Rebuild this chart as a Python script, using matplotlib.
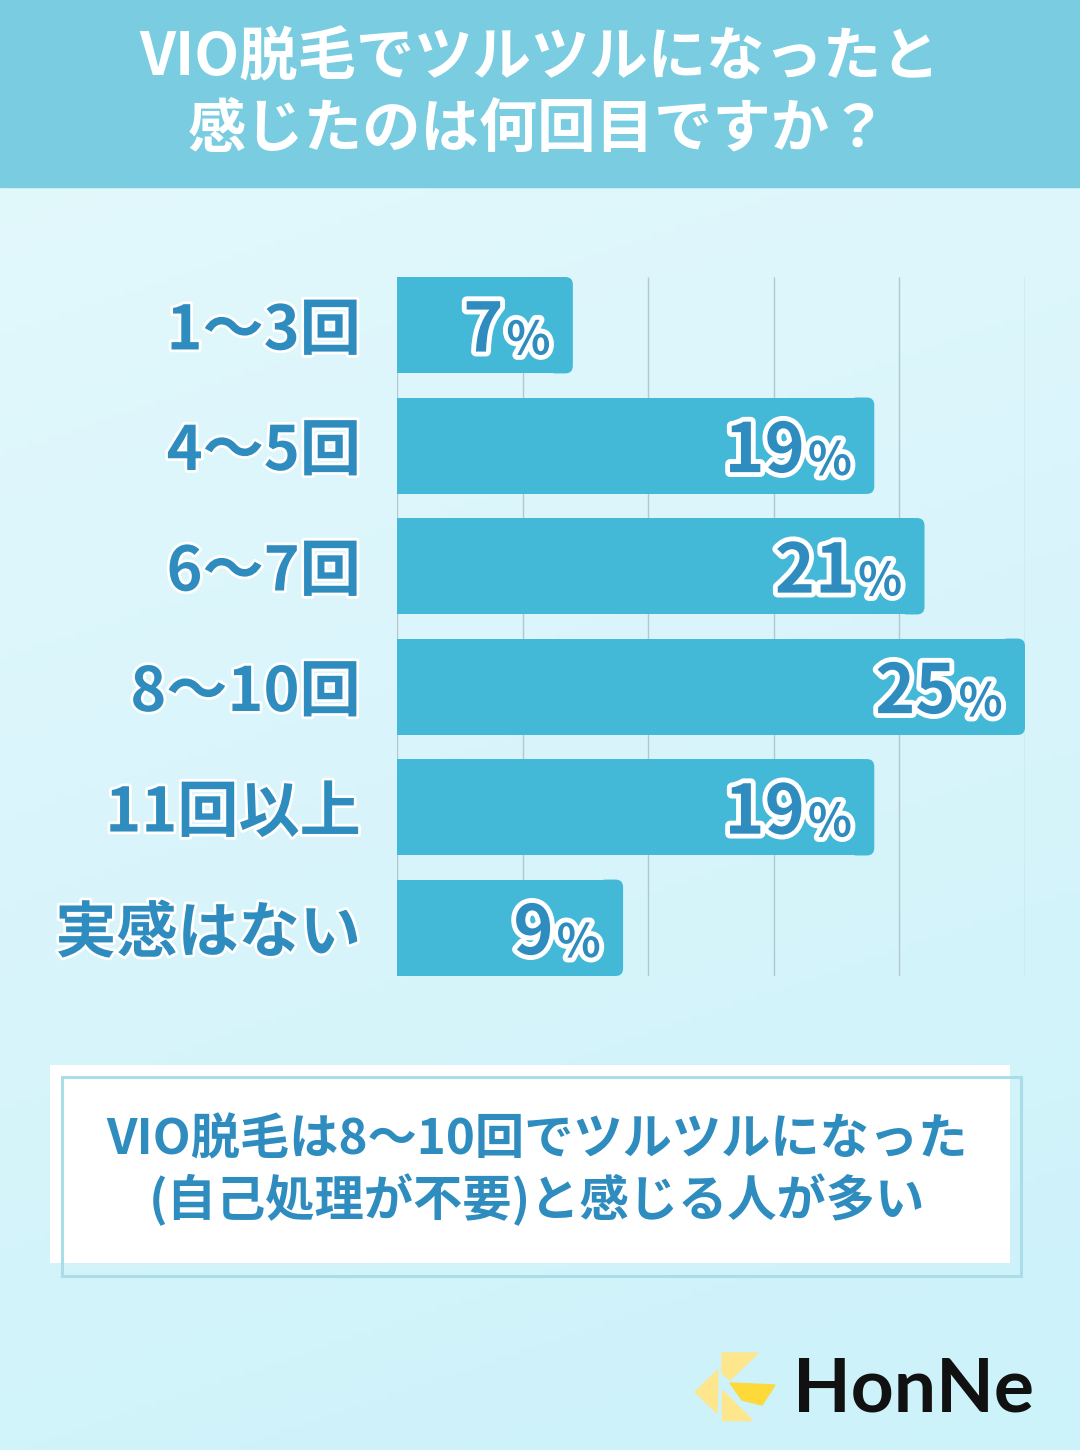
import numpy as np
import matplotlib.pyplot as plt
import matplotlib.patheffects as pe
from matplotlib.patches import Rectangle, Polygon, FancyBboxPatch
from matplotlib.colors import LinearSegmentedColormap

plt.rcParams['font.family'] = ['Noto Sans CJK JP', 'DejaVu Sans']

# データ
categories = ['1〜3回', '4〜5回', '6〜7回', '8〜10回', '11回以上', '実感はない']
values = [7, 19, 21, 25, 19, 9]
xticks = [0, 5, 10, 15, 20, 25]

title1 = 'VIO脱毛でツルツルになったと'
title2 = '感じたのは何回目ですか？'
note1 = 'VIO脱毛は8〜10回でツルツルになった'
note2 = '(自己処理が不要)と感じる人が多い'

W, H = 1080, 1450
BAR = '#43b9d7'
DARK = '#2f8cbf'


def px(x, y):
    return (x / W, 1 - y / H)


fig = plt.figure(figsize=(W / 100, H / 100), dpi=100)

# 背景グラデーション
bg = fig.add_axes([0, 0, 1, 1], zorder=-10)
yy, xx = np.mgrid[0:1:200j, 0:1:200j]
cmap = LinearSegmentedColormap.from_list('bg', ['#e4f9fc', '#d9f5fb', '#ccf2fa'])
bg.imshow(yy * 0.8 + xx * 0.2, cmap=cmap, aspect='auto', extent=[0, 1, 0, 1], origin='upper')
bg.set_axis_off()

# タイトル帯
fig.patches.append(Rectangle(px(0, 187), 1, 187 / H, transform=fig.transFigure,
                             color='#7acde1', zorder=0))
fig.text(*px(540, 58), title1, ha='center', va='center', fontsize=42,
         weight='bold', color='white')
fig.text(*px(538, 130), title2, ha='center', va='center', fontsize=42,
         weight='bold', color='white')

# 棒グラフ
ax = fig.add_axes([397 / W, 1 - 976 / H, 628 / W, 699 / H])
ax.set_facecolor('none')
y = np.arange(len(categories))
ax.vlines(xticks, -0.4, len(categories) - 0.6, color='#b3c7cf', lw=1, zorder=0)
bars = ax.barh(y, values, height=0.8, color=BAR, zorder=2)
# 右端だけ角丸にする
asp = (len(categories) - 0.2) / 699 / (25 / 628)
for b in bars:
    w = b.get_width()
    b.set_width(w - 0.5)
    ax.add_patch(FancyBboxPatch((w - 1, b.get_y()), 1, b.get_height(),
                                boxstyle='round,pad=0,rounding_size=0.3',
                                mutation_aspect=asp, color=BAR, lw=0, zorder=2))
ax.set_xlim(0, 25)
ax.set_ylim(len(categories) - 0.6, -0.4)
ax.set_xticks([])
ax.set_yticks(y)
ax.set_yticklabels(categories, fontsize=44, weight='bold', color=DARK)
ax.tick_params(axis='y', length=0, pad=26)
for t in ax.get_yticklabels():
    t.set_path_effects([pe.withStroke(linewidth=4, foreground='white')])
for s in ax.spines.values():
    s.set_visible(False)

stroke = [pe.withStroke(linewidth=7, foreground='white')]
for i, v in enumerate(values):
    ax.annotate('%', xy=(v, i), xytext=(-16, -21), textcoords='offset points',
                ha='right', va='baseline', fontsize=33, weight='bold',
                color=DARK, path_effects=stroke, zorder=4)
    ax.annotate(str(v), xy=(v, i), xytext=(-50, -19), textcoords='offset points',
                ha='right', va='baseline', fontsize=49, weight='bold',
                color=DARK, path_effects=stroke, zorder=4)

# まとめボックス
fig.patches.append(Rectangle(px(50, 1263), 960 / W, 198 / H, transform=fig.transFigure,
                             facecolor='white', edgecolor='none', zorder=1))
fig.patches.append(Rectangle(px(62, 1276), 959 / W, 199 / H, transform=fig.transFigure,
                             facecolor='none', edgecolor='#abdde8', lw=2.2, zorder=2))
fig.text(*px(537, 1140), note1, ha='center', va='center', fontsize=35.5,
         weight='bold', color=DARK, zorder=3)
fig.text(*px(537, 1200), note2, ha='center', va='center', fontsize=35.5,
         weight='bold', color=DARK, zorder=3)

# ロゴ
light = '#fde68c'
for pts, c in [
    ([(722, 1353), (758, 1353), (730, 1380), (722, 1373)], light),
    ([(718, 1370), (695, 1392), (717, 1413)], light),
    ([(722, 1390), (722, 1420), (752, 1420)], light),
    ([(730, 1383), (775, 1385), (762, 1405), (742, 1400)], '#fdd93a'),
]:
    fig.patches.append(Polygon([px(a, b) for a, b in pts], closed=True,
                               transform=fig.transFigure, color=c, zorder=2))
fig.text(*px(793, 1412), 'HonNe', ha='left', va='baseline', fontsize=54,
         family='Lato', weight='bold', color='#111111')

fig.savefig('out.png', dpi=100)
